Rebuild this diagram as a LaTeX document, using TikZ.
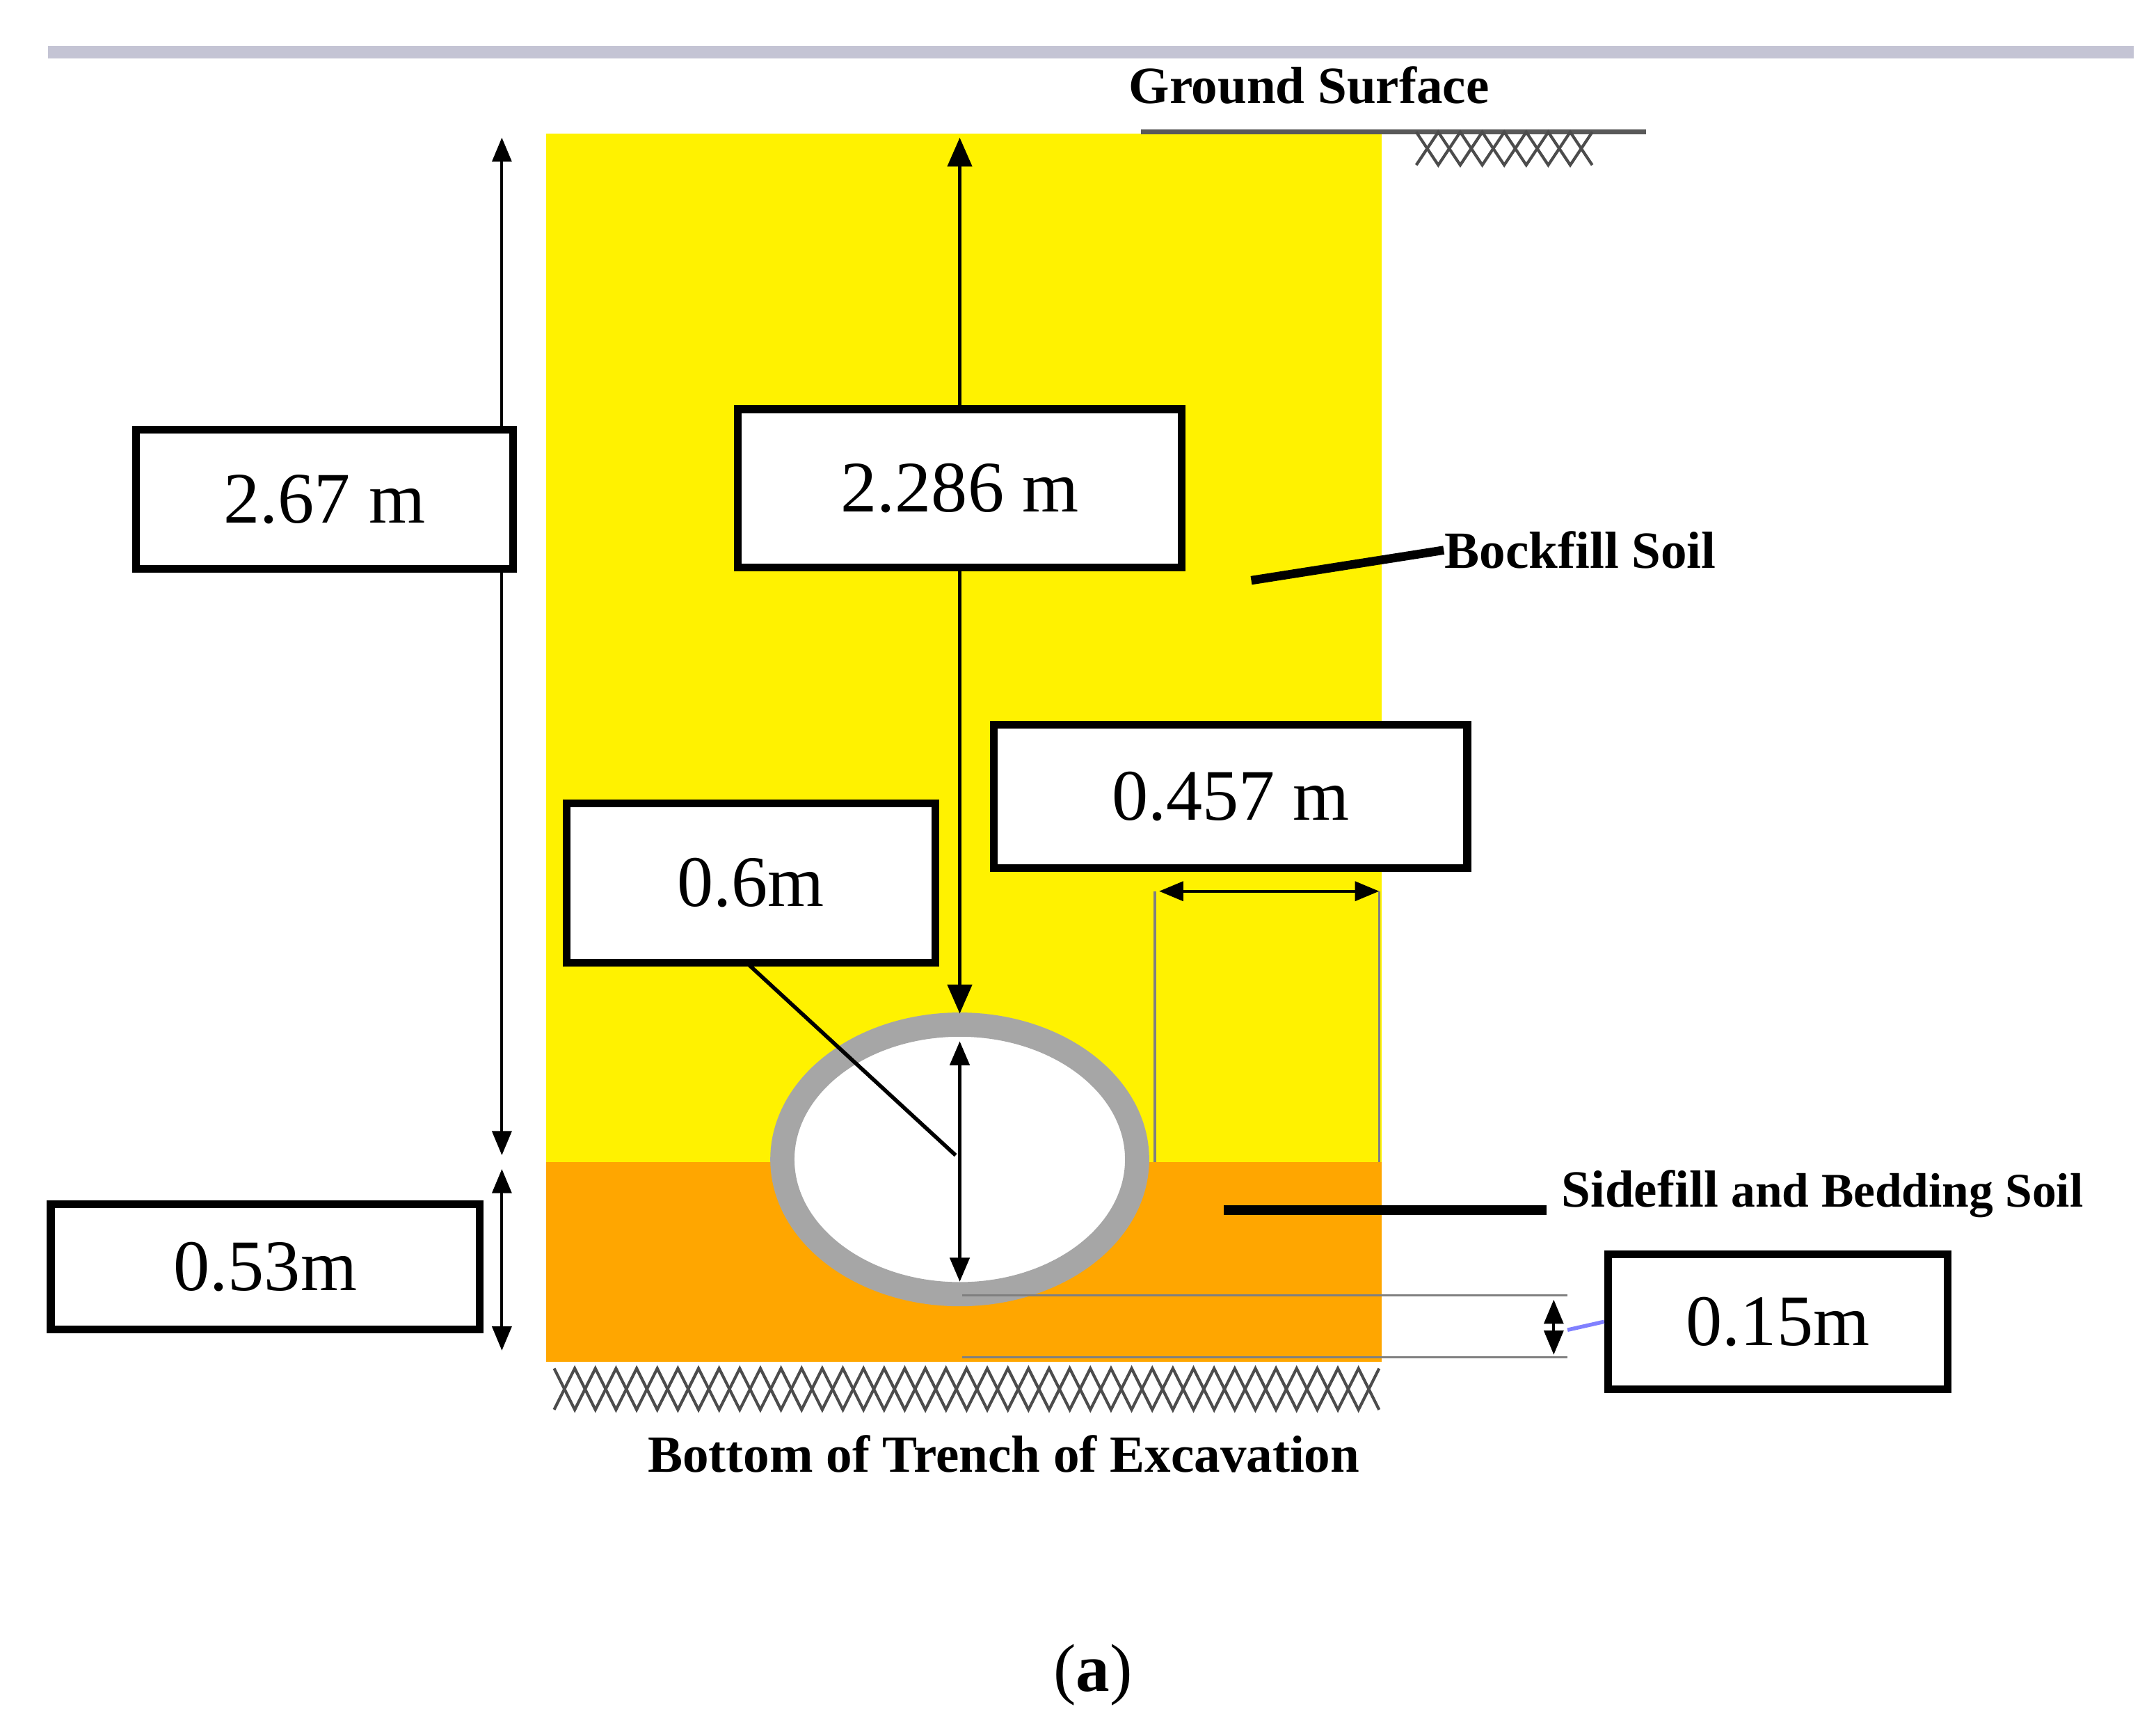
\documentclass[tikz,border=0pt]{standalone}
\usepackage{fontspec}
\setmainfont{Liberation Serif}
\usetikzlibrary{arrows.meta}
\begin{document}
\begin{tikzpicture}[x=0.01cm,y=-0.01cm,
  numbox/.style={draw,line width=1.6pt,fill=white,minimum width=#1,inner sep=0pt,font=\fontsize{15}{18}\selectfont},
  lbl/.style={font=\bfseries\fontsize{10.8}{13}\selectfont,inner sep=0pt},
  dim/.style={line width=0.6pt,{Triangle[length=5pt,width=4pt]}-{Triangle[length=5pt,width=4pt]}}]
\useasboundingbox (0,0) rectangle (1568,1259);
\draw[line width=2.5pt,color=blue!15!gray!40] (35,38) -- (1552,38);
\fill[yellow] (397,97) rectangle (1005,845);
\fill[orange!70!yellow] (397,845) rectangle (1005,990);
% ground surface
\node[lbl] (gs) at (952,62) {Ground Surface};
\draw[line width=1pt,gray!70!black] (830,96) -- (1197,96);
\draw[gray!60!black,line width=0.6pt] (1030,96) \foreach \i in {0,...,3} { -- ++(16,24) -- ++(16,-24)};
\draw[gray!60!black,line width=0.6pt] (1030,120) \foreach \i in {0,...,3} { -- ++(16,-24) -- ++(16,24)};
% bottom hatch
\draw[gray!60!black,line width=0.6pt] (403,995) \foreach \i in {1,...,20} { -- ++(15,30) -- ++(15,-30)};
\draw[gray!60!black,line width=0.6pt] (403,1025) \foreach \i in {1,...,20} { -- ++(15,-30) -- ++(15,30)};
\node[lbl] (bt) at (730,1057) {Bottom of Trench of Excavation};
% left dims
\coordinate (l1) at (365,100); \coordinate (l2) at (365,840);
\coordinate (l3) at (365,850); \coordinate (l4) at (365,982);
\draw[dim] (l1) -- (l2);
\draw[dim] (l3) -- (l4);
\node[numbox=274*0.2845pt,minimum height=101*0.2845pt] (b267) at (236,363) {2.67 m};
\node[numbox=312*0.2845pt,minimum height=91*0.2845pt] (b053) at (193,921) {0.53m};
% pipe
\draw[gray!70,line width=5pt,fill=white] (698,843) ellipse (129 and 98);
% center dims
\coordinate (c1) at (698,100); \coordinate (c2) at (698,737);
\node[numbox=323*0.2845pt,minimum height=115*0.2845pt] (b2286) at (698,355) {2.286 m};
\draw[line width=0.8pt,-{Triangle[length=6pt,width=5pt]}] (b2286.north) -- (c1);
\draw[line width=0.8pt,-{Triangle[length=6pt,width=5pt]}] (b2286.south) -- (c2);
\coordinate (p1) at (698,757); \coordinate (p2) at (698,932);
\draw[dim,line width=0.8pt] (p1) -- (p2);
\node[numbox=268*0.2845pt,minimum height=116*0.2845pt] (b06) at (546,642) {0.6m};
\coordinate (pc) at (695,840);
\draw[line width=0.8pt] (543,700) -- (pc);
% 0.457
\node[numbox=344*0.2845pt,minimum height=104*0.2845pt] (b457) at (895,579) {0.457 m};
\coordinate (d1) at (843,648); \coordinate (d2) at (1003,648);
\draw[dim] (d1) -- (d2);
\draw[line width=0.5pt,gray] (840,648) -- (840,845) (1003,648) -- (1003,845);
% bockfill
\node[lbl,anchor=west] (bs) at (1050,400) {Bockfill Soil};
\draw[line width=1.8pt] (910,422) -- (bs.west);
% sidefill
\node[lbl,anchor=west] (sf) at (1135,868) {Sidefill {\fontsize{10}{12}\selectfont and Bedding Soil}};
\draw[line width=2pt] (890,880) -- (1125,880);
% 0.15
\draw[line width=0.4pt,gray] (700,942) -- (1140,942) (700,987) -- (1140,987);
\coordinate (e1) at (1130,945); \coordinate (e2) at (1130,985);
\draw[dim] (e1) -- (e2);
\node[numbox=247*0.2845pt,minimum height=98*0.2845pt] (b015) at (1293,961) {0.15m};
\draw[blue!50,line width=0.8pt] (1140,967) -- (b015.west);
\node[font=\fontsize{14}{16}\selectfont] (a) at (795,1218) {(\textbf{a})};
\end{tikzpicture}
\end{document}
